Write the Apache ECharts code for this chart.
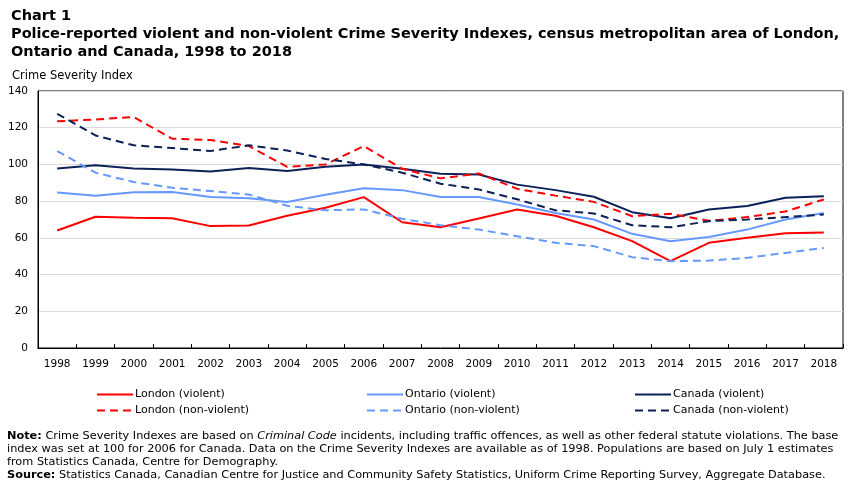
<!DOCTYPE html>
<html>
<head>
<meta charset="utf-8">
<script src="https://cdn.jsdelivr.net/npm/echarts@6/dist/echarts.min.js"></script>
<style>
  html, body { margin: 0; padding: 0; background: #fff; }
  #main { width: 851px; height: 486px; }
</style>
</head>
<body>
<div id="main"></div>
<script>
var years = ['1998','1999','2000','2001','2002','2003','2004','2005','2006','2007','2008',
             '2009','2010','2011','2012','2013','2014','2015','2016','2017','2018'];
var londonViolent    = [64, 71.5, 71, 70.7, 66.4, 66.7, 72, 76.4, 82.2, 68.5, 65.8, 70.5, 75.5, 72, 65.8, 58.2, 47.3, 57.3, 60, 62.5, 62.9];
var ontarioViolent   = [84.7, 83, 84.9, 85, 82.2, 81.6, 79.5, 83.5, 87, 86, 82.2, 82.2, 78.2, 73.5, 70, 62.2, 58.2, 60.5, 64.5, 70, 73.5];
var canadaViolent    = [97.8, 99.5, 97.8, 97.3, 96.2, 98, 96.4, 98.7, 100, 97.6, 94.9, 94.5, 89, 86, 82.4, 74, 70.7, 75.5, 77.3, 81.8, 82.7];
var londonNonViolent = [123.5, 124.5, 125.8, 114, 113.3, 110, 98.7, 100, 110, 97.6, 92.4, 95.1, 86.7, 83, 79.6, 71.8, 73.1, 69.3, 71.3, 74.4, 80.9];
var ontarioNonViolent= [107.3, 95.5, 90.4, 87.3, 85.5, 83.6, 77.5, 75, 75.5, 70.4, 66.9, 64.5, 60.9, 57.3, 55.5, 49.5, 47.3, 47.6, 49.1, 51.8, 54.5];
var canadaNonViolent = [127.6, 115.8, 110.4, 108.9, 107.3, 110.4, 107.6, 103, 100, 95.5, 89.5, 86.4, 81, 75, 73.3, 66.9, 65.8, 69.1, 70, 71.3, 72.7];

var RED = '#ff0000', LIGHT = '#6699ff', NAVY = '#0c2157';
var font = 'Verdana, "DejaVu Sans", sans-serif';

function line(name, data, color, dashed) {
    return {
        name: name,
        type: 'line',
        data: data,
        symbol: 'none',
        smooth: false,
        lineStyle: { color: color, width: 2, type: dashed ? [8, 5] : 'solid' },
        itemStyle: { color: color }
    };
}

// one legend column per region
function legendCol(left, names) {
    return {
        left: left, top: 389,
        padding: 0,
        orient: 'vertical',
        itemWidth: 36, itemHeight: 2, itemGap: 5,
        data: names,
        textStyle: { fontFamily: font, fontSize: 11, color: '#000', padding: [0, 0, 0, -3] }
    };
}

var myChart = echarts.init(document.getElementById('main'));
var option = {
    animation: false,
    backgroundColor: '#fff',
    textStyle: { fontFamily: font },
    title: [
        {
            text: 'Chart 1\nPolice-reported violent and non-violent Crime Severity Indexes, census metropolitan area of London,\nOntario and Canada, 1998 to 2018',
            left: 6, top: 2,
            textStyle: { fontFamily: font, fontSize: 14.5, fontWeight: 'bold', color: '#000', lineHeight: 18 }
        },
        {
            text: 'Crime Severity Index',
            left: 7, top: 65,
            textStyle: { fontFamily: font, fontSize: 11.5, fontWeight: 'normal', color: '#000' }
        }
    ],
    legend: [
        legendCol(96, ['London (violent)', 'London (non-violent)']),
        legendCol(366, ['Ontario (violent)', 'Ontario (non-violent)']),
        legendCol(634, ['Canada (violent)', 'Canada (non-violent)'])
    ],
    grid: {
        left: 38, right: 8, top: 91, bottom: 138,
        show: true, borderColor: '#000', borderWidth: 1,
        containLabel: false
    },
    xAxis: {
        type: 'category',
        data: years,
        boundaryGap: true,
        axisLine: { lineStyle: { color: '#000', width: 1 } },
        axisTick: { show: true, inside: true, length: 4, lineStyle: { color: '#000' } },
        axisLabel: { color: '#000', fontSize: 10.5, fontFamily: font, margin: 11, interval: 0 }
    },
    yAxis: {
        type: 'value',
        min: 0, max: 140, interval: 20,
        axisLine: { show: true, lineStyle: { color: '#000', width: 1 } },
        axisTick: { show: false },
        axisLabel: { color: '#000', fontSize: 10.5, fontFamily: font, margin: 10 },
        splitLine: { lineStyle: { color: '#d9d9d9', width: 1 } }
    },
    graphic: [
        {
            type: 'text', left: 7, top: 430,
            style: {
                text: '{b|Note:} Crime Severity Indexes are based on {i|Criminal Code} incidents, including traffic offences, as well as other federal statute violations. The base\nindex was set at 100 for 2006 for Canada. Data on the Crime Severity Indexes are available as of 1998. Populations are based on July 1 estimates\nfrom Statistics Canada, Centre for Demography.\n{b|Source:} Statistics Canada, Canadian Centre for Justice and Community Safety Statistics, Uniform Crime Reporting Survey, Aggregate Database.',
                font: '11.3px ' + font,
                lineHeight: 13,
                fill: '#000',
                rich: {
                    b: { fontWeight: 'bold', fontSize: 11.3, fontFamily: font, lineHeight: 13 },
                    i: { fontStyle: 'italic', fontSize: 11.3, fontFamily: font, lineHeight: 13 }
                }
            }
        }
    ],
    series: [
        line('London (violent)', londonViolent, RED, false),
        line('Ontario (violent)', ontarioViolent, LIGHT, false),
        line('Canada (violent)', canadaViolent, NAVY, false),
        line('London (non-violent)', londonNonViolent, RED, true),
        line('Ontario (non-violent)', ontarioNonViolent, LIGHT, true),
        line('Canada (non-violent)', canadaNonViolent, NAVY, true)
    ]
};
myChart.setOption(option);
</script>
</body>
</html>
